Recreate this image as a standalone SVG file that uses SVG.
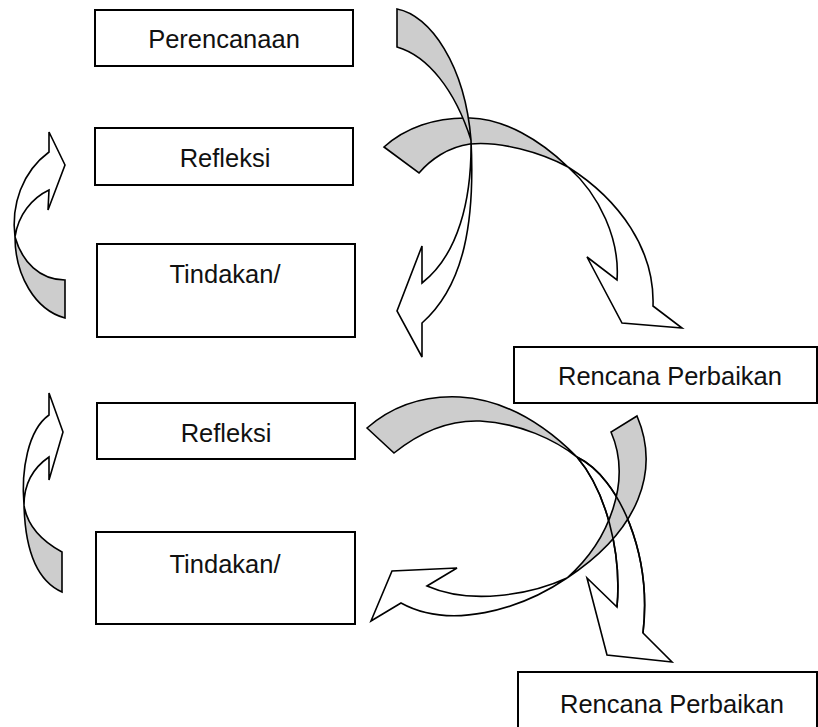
<svg xmlns="http://www.w3.org/2000/svg" width="818" height="727" viewBox="0 0 818 727">
<style>
.box{fill:#ffffff;stroke:#000000;stroke-width:2}
.lbl{font-family:"Liberation Sans",Arial,sans-serif;font-size:25.5px;fill:#111111;text-anchor:middle}
.back{fill:#cdcdcd;stroke:#000000;stroke-width:1.6;stroke-linejoin:miter}
.front{fill:#ffffff;stroke:#000000;stroke-width:1.6;stroke-linejoin:miter}
.edge{fill:none;stroke:#000000;stroke-width:1.6}
</style>
<rect width="818" height="727" fill="#ffffff"/>
<g id="connectors">
  <g id="arrow-c">
    <path class="back" d="M15,237 C15,275 35,310 65,318 L65,280 C40,280 22,262 15,237 Z"/>
    <path class="front" d="M15,237 C11,205 22,172 49,152 L49,132 L65,165 L48,210 L49,190 C32,198 18,215 15,237 Z"/>
  </g>
  <g id="arrow-d">
    <path class="back" d="M24,505 C25,545 35,580 62,592 L62,552 C40,540 27,525 24,505 Z"/>
    <path class="front" d="M24,505 C21,470 28,430 49,415 L49,393 L63,432 L49,480 L49,457 C33,468 24,485 24,505 Z"/>
  </g>
  <g id="arrow-b">
    <path class="back" d="M384,147 L419,173 C430,160 448,147 470,144 C500,141 540,152 568,167 C540,140 505,119 470,118 C435,117 405,128 384,147 Z"/>
    <path class="front" d="M568,167 C620,200 655,250 653,306 L682,328 L622,323 L587,257 L617,280 C620,240 600,195 568,167 Z"/>
  </g>
  <g id="arrow-a">
    <path class="back" d="M397,9 L397,47 C428,56 455,90 471,140 C465,65 430,15 397,9 Z"/>
    <path class="front" d="M471,140 C475,220 465,285 422,323 L422,357 L397,311 L422,246 L422,283 C458,255 472,200 471,140 Z"/>
  </g>
  <g id="arrow-e">
    <path class="back" d="M367,428 L394,453 C420,432 450,420 480,421 C520,423 555,440 577,457 C550,430 510,400 460,397 C420,395 390,408 367,428 Z"/>
    <path class="front" d="M577,457 C620,478 652,555 643,633 L672,662 L607,655 L587,578 L617,607 C622,550 605,490 577,457 Z"/>
  </g>
  <g id="arrow-f">
    <path class="back" d="M637,416 C660,470 640,530 567,578 C610,540 632,480 611,432 Z"/>
    <path class="front" d="M567,578 C520,610 450,630 401,603 L371,621 L392,571 L457,568 L427,586 C470,605 530,595 567,578 Z"/>
  </g>
  <path class="edge" d="M577,457 C620,478 652,555 643,633 M617,607 C622,550 605,490 577,457"/>
</g>
<g id="perencanaan">
  <rect class="box" x="95" y="10" width="258" height="56"/>
  <text class="lbl" x="224" y="48">Perencanaan</text>
</g>
<g id="refleksi-1">
  <rect class="box" x="95" y="128" width="258" height="57"/>
  <text class="lbl" x="225" y="167">Refleksi</text>
</g>
<g id="tindakan-1">
  <rect class="box" x="97" y="244" width="258" height="93"/>
  <text class="lbl" x="225" y="283">Tindakan/</text>
</g>
<g id="rencana-perbaikan-1">
  <rect class="box" x="514" y="347" width="303" height="56"/>
  <text class="lbl" x="670" y="385">Rencana Perbaikan</text>
</g>
<g id="refleksi-2">
  <rect class="box" x="97" y="403" width="258" height="56"/>
  <text class="lbl" x="226" y="442">Refleksi</text>
</g>
<g id="tindakan-2">
  <rect class="box" x="96" y="532" width="259" height="92"/>
  <text class="lbl" x="225" y="573">Tindakan/</text>
</g>
<g id="rencana-perbaikan-2">
  <rect class="box" x="518" y="672" width="299" height="70"/>
  <text class="lbl" x="672" y="713">Rencana Perbaikan</text>
</g>
</svg>
